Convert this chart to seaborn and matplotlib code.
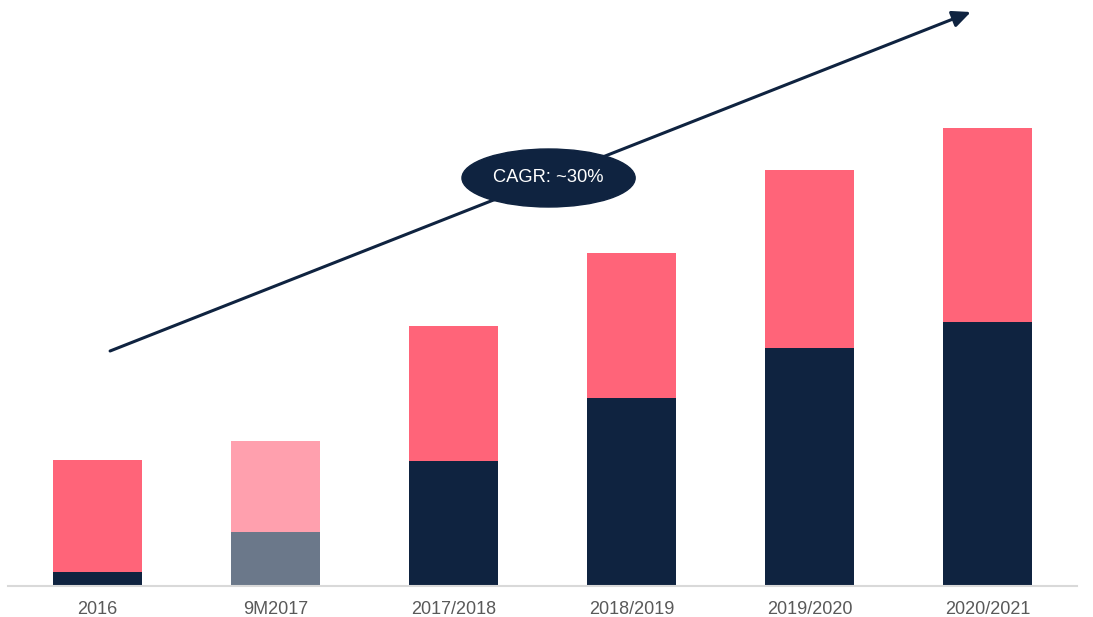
import matplotlib.pyplot as plt
import seaborn as sns
import pandas as pd
from matplotlib.patches import Ellipse

# Values (arbitrary units, no axis shown)
categories = ["2016", "9M2017", "2017/2018", "2018/2019", "2019/2020", "2020/2021"]
base_values = [14, 54, 125, 188, 238, 264]
top_values = [112, 91, 135, 145, 178, 194]

base_colors = ["#0F2340", "#6B788A", "#0F2340", "#0F2340", "#0F2340", "#0F2340"]
top_colors = ["#FF6479", "#FFA0AE", "#FF6479", "#FF6479", "#FF6479", "#FF6479"]

df = pd.DataFrame({"cat": categories, "base": base_values, "top": top_values})
df["total"] = df["base"] + df["top"]

sns.set_style("white")
plt.rcParams["font.family"] = ["Liberation Sans", "DejaVu Sans"]

fig = plt.figure(figsize=(10.93, 6.17), dpi=100)
ax = fig.add_axes([8 / 1093, 31 / 617, 1069 / 1093, 586 / 617])

# stacked bars: total first, then the lower segment over it
sns.barplot(data=df, x="cat", y="total", hue="cat", palette=top_colors,
            legend=False, width=0.5, saturation=1, linewidth=0, ax=ax)
sns.barplot(data=df, x="cat", y="base", hue="cat", palette=base_colors,
            legend=False, width=0.5, saturation=1, linewidth=0, ax=ax)

ax.set_xlim(-0.5, 5.5)
ax.set_ylim(0, 586)
ax.set_xlabel("")
ax.set_ylabel("")
ax.set_yticks([])
ax.tick_params(axis="x", length=0, labelsize=13, labelcolor="#595959", pad=11)
for s in ["top", "right", "left"]:
    ax.spines[s].set_visible(False)
ax.spines["bottom"].set_color("#D9D9D9")
ax.spines["bottom"].set_linewidth(1.5)

# growth arrow
ax.annotate("", xy=(4.904, 574), xytext=(0.073, 235),
            arrowprops=dict(arrowstyle="-|>,head_length=1.1,head_width=0.5",
                            color="#0F2340", lw=2.2, shrinkA=0, shrinkB=0),
            annotation_clip=False)

# CAGR badge
ax.add_patch(Ellipse((2.534, 408), 0.972, 58, color="#0F2340", zorder=5))
ax.text(2.534, 408, "CAGR: ~30%", color="white", fontsize=13.2,
        ha="center", va="center", zorder=6)

fig.savefig("out.png", dpi=100)
